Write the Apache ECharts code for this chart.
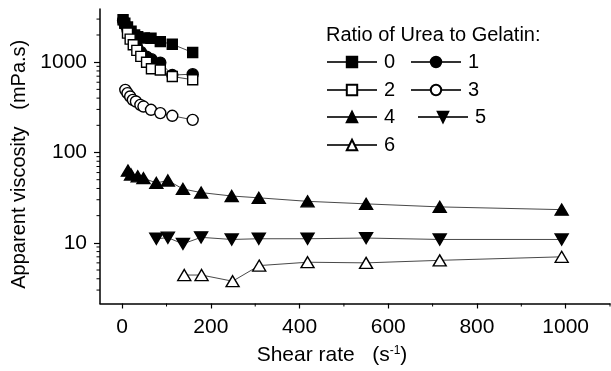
<!DOCTYPE html>
<html>
<head>
<meta charset="utf-8">
<script src="https://cdn.jsdelivr.net/npm/echarts@6/dist/echarts.min.js"></script>
<style>
html,body{margin:0;padding:0;background:#fff;}
#c{width:611px;height:371px;}
</style>
</head>
<body>
<div id="c"></div>
<script>
// ---- data ----
const seriesNames = ['0', '1', '2', '3', '4', '5', '6'];
const x0 = [2, 6, 12, 20, 28, 35, 50, 65, 86, 113, 159];
const y0 = [2950, 2700, 2450, 2200, 2000, 1920, 1850, 1840, 1690, 1580, 1280];
const x1 = [2, 6, 12, 18, 25, 33, 42, 55, 66, 86, 113, 159];
const y1 = [2900, 2600, 2300, 2000, 1750, 1500, 1300, 1150, 1080, 990, 720, 737];
const x2 = [12, 18, 25, 33, 42, 55, 66, 86, 113, 159];
const y2 = [2100, 1800, 1560, 1350, 1160, 1000, 845, 820, 693, 640];
const x3 = [7, 12, 18, 24, 31, 41, 48, 65, 86, 113, 159];
const y3 = [494, 454, 417, 383, 367, 337, 323, 297, 273, 255, 230];
const x4 = [13, 20, 35, 48, 77, 103, 137, 178, 247, 308, 418, 550, 716, 991];
const y4 = [63, 57, 54.5, 52, 46, 49, 39.5, 36, 33, 31.5, 28.8, 27, 25, 23.3];
const x5 = [77, 103, 137, 178, 247, 308, 418, 550, 716, 991];
const y5 = [11.1, 11.4, 9.75, 11.5, 10.9, 11.1, 11.1, 11.3, 10.9, 10.9];
const x6 = [140, 179, 249, 309, 418, 550, 716, 991];
const y6 = [4.4, 4.4, 3.76, 5.6, 6.1, 6.0, 6.4, 7.0];
const xMajorTicks = [0, 200, 400, 600, 800, 1000];
const xMinorTicks = [100, 300, 500, 700, 900, 1100];
const yMajorTicks = [10, 100, 1000];
const yMinorTicks = [3, 4, 5, 6, 7, 8, 9, 20, 30, 40, 50, 60, 70, 80, 90,
  200, 300, 400, 500, 600, 700, 800, 900, 2000, 3000];

const xs = [x0, x1, x2, x3, x4, x5, x6];
const ys = [y0, y1, y2, y3, y4, y5, y6];

// ---- styles ----
const FONT = 'Liberation Sans, Arial, Helvetica, sans-serif';
const styles = [
  {symbol: 'rect', size: 10, fill: '#000', rot: 0},
  {symbol: 'circle', size: 11, fill: '#000', rot: 0},
  {symbol: 'rect', size: 10, fill: '#fff', rot: 0},
  {symbol: 'circle', size: 11, fill: '#fff', rot: 0},
  {symbol: 'triangle', size: [13, 11], fill: '#000', rot: 0},
  {symbol: 'triangle', size: [13, 11], fill: '#000', rot: 180},
  {symbol: 'triangle', size: [13, 11], fill: '#fff', rot: 0}
];
const legendPos = [
  {left: 326, top: 52}, {left: 410, top: 52},
  {left: 326, top: 80}, {left: 410, top: 80},
  {left: 326, top: 107}, {left: 417, top: 107},
  {left: 326, top: 135}
];

const series = seriesNames.map((n, i) => ({
  name: n,
  type: 'line',
  data: xs[i].map((x, k) => [x, ys[i][k]]),
  symbol: styles[i].symbol,
  symbolSize: styles[i].size,
  symbolRotate: styles[i].rot,
  showAllSymbol: true,
  lineStyle: {color: '#333', width: 0.9},
  itemStyle: {color: styles[i].fill, borderColor: '#000', borderWidth: 1.4, opacity: 1},
  emphasis: {disabled: true},
  animation: false,
  z: 2 + i
}));

const legends = seriesNames.map((n, i) => ({
  data: [n],
  left: legendPos[i].left,
  top: legendPos[i].top,
  padding: 0,
  itemWidth: 50,
  itemHeight: 13,
  itemGap: 0,
  selectedMode: false,
  textStyle: {fontFamily: FONT, fontSize: 20, color: '#000', padding: [0, 0, 0, 2]}
}));

const plainLabel = v => String(Math.round(v));

const option = {
  backgroundColor: '#fff',
  animation: false,
  title: {
    text: 'Ratio of Urea to Gelatin:',
    left: 326, top: 25, padding: 0,
    textStyle: {fontFamily: FONT, fontSize: 20, fontWeight: 'normal', color: '#000'}
  },
  legend: legends,
  grid: {left: 100, right: 1, top: 9, bottom: 67, containLabel: false},
  xAxis: {
    type: 'value',
    min: -50, max: 1100,
    minInterval: 200, maxInterval: 200,
    name: 'Shear rate   (s{sup|-1})',
    nameLocation: 'middle',
    nameGap: 41,
    nameTextStyle: {
      fontFamily: FONT, fontSize: 21, color: '#000', padding: [0, 46, 0, 0],
      rich: {sup: {fontFamily: FONT, fontSize: 12, color: '#000', verticalAlign: 'top', padding: [0, 0, 10, 0]}}
    },
    axisLine: {show: true, onZero: false, lineStyle: {color: '#000', width: 1.5}},
    axisTick: {show: true, inside: false, length: 5, lineStyle: {color: '#000', width: 1.2},
      customValues: xMajorTicks},
    axisLabel: {fontFamily: FONT, fontSize: 21, color: '#000', margin: 13,
      customValues: xMajorTicks, formatter: plainLabel},
    splitLine: {show: false}
  },
  yAxis: {
    type: 'log',
    logBase: 10,
    min: 2.13, max: 3880,
    name: 'Apparent viscosity   (mPa.s)',
    nameLocation: 'middle',
    nameGap: 60,
    nameTextStyle: {fontFamily: FONT, fontSize: 20, color: '#000', padding: [0, 16, 0, 0]},
    axisLine: {show: true, onZero: false, lineStyle: {color: '#000', width: 1.5}},
    axisTick: {show: true, inside: false, length: 6, lineStyle: {color: '#000', width: 1.2},
      customValues: yMajorTicks},
    axisLabel: {fontFamily: FONT, fontSize: 21, color: '#000', margin: 13,
      customValues: yMajorTicks, formatter: plainLabel},
    splitLine: {show: false}
  },
  series: series
};

const chart = echarts.init(document.getElementById('c'), null, {renderer: 'canvas'});
chart.setOption(option);

// minor ticks (outward) computed from the axes' own scales
const axisX = chart.convertToPixel({xAxisIndex: 0}, -50);
const axisY = chart.convertToPixel({yAxisIndex: 0}, 2.13);
const g = [];
yMinorTicks.forEach(v => {
  const p = chart.convertToPixel({yAxisIndex: 0}, v);
  g.push({type: 'line', shape: {x1: axisX - 3.5, y1: p, x2: axisX, y2: p},
    style: {stroke: '#000', lineWidth: 1}, silent: true});
});
xMinorTicks.forEach(v => {
  const p = chart.convertToPixel({xAxisIndex: 0}, v);
  g.push({type: 'line', shape: {x1: p, y1: axisY, x2: p, y2: axisY + 3},
    style: {stroke: '#000', lineWidth: 1}, silent: true});
});
chart.setOption({graphic: g});
</script>
</body>
</html>
